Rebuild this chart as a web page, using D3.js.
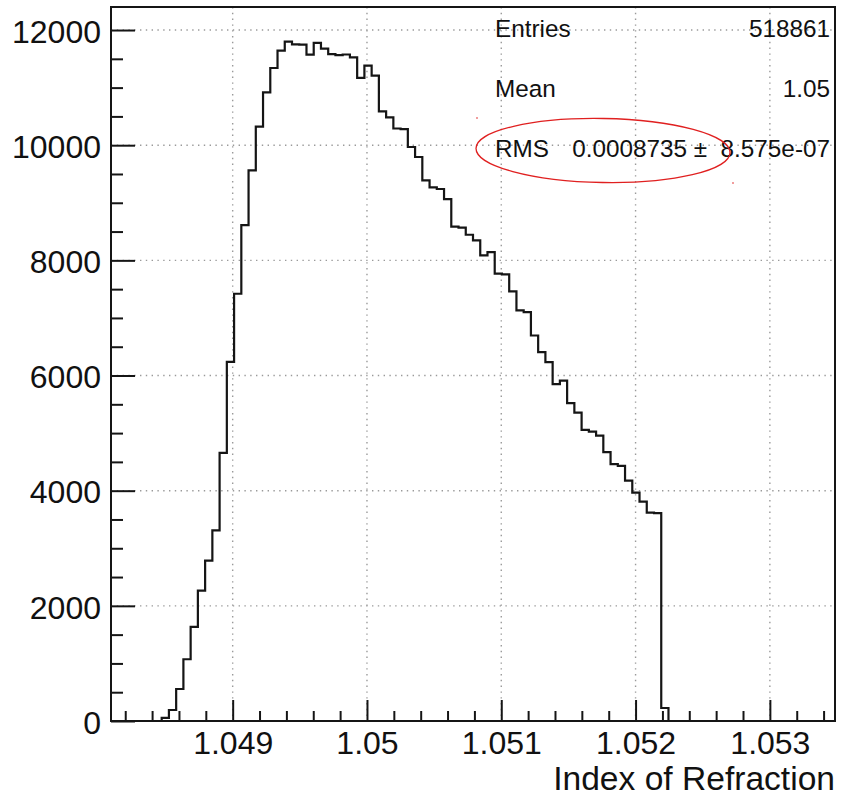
<!DOCTYPE html>
<html>
<head>
<meta charset="utf-8">
<script src="https://cdn.jsdelivr.net/npm/d3@7"></script>
<style>
  html, body { margin: 0; padding: 0; background: #fff; }
  text { font-family: "Liberation Sans", Arial, Helvetica, sans-serif; fill: #111; }
</style>
</head>
<body>
<div id="chart"></div>
<script>
// histogram binning (100 bins over the axis range)
const histLow = 1.048094
const histHigh = 1.053485
const nBins = 100

// bin contents
const binCounts = [
    0, 0, 0, 0, 0, 0, 0, 55, 191, 556,
    1072, 1633, 2264, 2786, 3310, 4657, 6238, 7420, 8613, 9562,
    10321, 10917, 11341, 11642, 11798, 11751, 11746, 11572, 11776, 11677,
    11580, 11565, 11575, 11525, 11168, 11381, 11207, 10587, 10483, 10290,
    10280, 9969, 9795, 9388, 9267, 9239, 9065, 8585, 8570, 8445,
    8346, 8085, 8144, 7770, 7755, 7460, 7130, 7102, 6695, 6407,
    6233, 5851, 5913, 5520, 5357, 5056, 5027, 4957, 4669, 4460,
    4431, 4176, 3967, 3811, 3620, 3610, 226, 0, 0, 0,
    0, 0, 0, 0, 0, 0, 0, 0, 0, 0,
    0, 0, 0, 0, 0, 0, 0, 0, 0, 0
]

const yMax = 12400
const xTicks = [1.049, 1.05, 1.051, 1.052, 1.053]
const xTickLabels = ["1.049", "1.05", "1.051", "1.052", "1.053"]
const xMinorStep = 0.0002
const yTicks = [0, 2000, 4000, 6000, 8000, 10000, 12000]
const yMinorStep = 500
const xTitle = "Index of Refraction"

const statLabels = ["Entries", "Mean", "RMS"]
const statValues = ["518861", "1.05", "0.0008735 \u00b1  8.575e-07"]

const layout = {
    width: 844,
    height: 796,
    frame: { left: 111, top: 7, right: 835, bottom: 721 }
}
const f = layout.frame

var svg = d3.select("#chart").append("svg")
    .attr("width", layout.width)
    .attr("height", layout.height)

var xScale = d3.scaleLinear().domain([histLow, histHigh]).range([f.left, f.right])
var yScale = d3.scaleLinear().domain([0, yMax]).range([f.bottom, f.top])

// dotted grid
var grid = svg.append("g")
    .attr("stroke", "#9a9a9a")
    .attr("stroke-width", 1.4)
    .attr("stroke-dasharray", "1.4,4.4")
grid.selectAll(".gx").data(xTicks).enter().append("line")
    .attr("x1", d => xScale(d)).attr("x2", d => xScale(d))
    .attr("y1", f.top).attr("y2", f.bottom)
grid.selectAll(".gy").data(yTicks.filter(d => d > 0)).enter().append("line")
    .attr("x1", f.left).attr("x2", f.right)
    .attr("y1", d => yScale(d)).attr("y2", d => yScale(d))

// histogram outline
var edges = d3.range(nBins + 1).map(i => histLow + i * (histHigh - histLow) / nBins)
var pts = binCounts.map((c, i) => [edges[i], c])
pts.push([edges[nBins], binCounts[nBins - 1]])

var line = d3.line()
    .curve(d3.curveStepAfter)
    .x(d => xScale(d[0]))
    .y(d => yScale(d[1]))

svg.append("path")
    .datum(pts)
    .attr("fill", "none")
    .attr("stroke", "#151515")
    .attr("stroke-width", 2.2)
    .attr("d", line)

// axes
var fontSize = 32

const yMinor = d3.range(0, yMax, yMinorStep).filter(d => yTicks.indexOf(d) < 0)
const xMinor = d3.range(Math.ceil(histLow / xMinorStep) * xMinorStep, histHigh, xMinorStep)
    .filter(d => !xTicks.some(t => Math.abs(t - d) < 1e-7))

const styleAxis = function(g) {
    g.select(".domain").remove()
    g.selectAll(".tick line").attr("stroke", "#151515").attr("stroke-width", 2)
}

svg.append("g")
    .attr("transform", `translate(${f.left},0)`)
    .call(d3.axisLeft(yScale).tickValues(yMinor).tickSize(-12).tickFormat(""))
    .call(styleAxis)

svg.append("g")
    .attr("transform", `translate(${f.left},0)`)
    .call(d3.axisLeft(yScale).tickValues(yTicks).tickSize(-24).tickPadding(10).tickFormat(d3.format("d")))
    .call(styleAxis)
    .call(g => g.selectAll(".tick text").attr("dy", "0.38em"))
    .attr("font-size", fontSize)

svg.append("g")
    .attr("transform", `translate(0,${f.bottom})`)
    .call(d3.axisBottom(xScale).tickValues(xMinor).tickSize(-10).tickFormat(""))
    .call(styleAxis)

svg.append("g")
    .attr("transform", `translate(0,${f.bottom})`)
    .call(d3.axisBottom(xScale).tickValues(xTicks).tickSize(-21).tickPadding(10)
        .tickFormat((d, i) => xTickLabels[i]))
    .call(styleAxis)
    .attr("font-size", fontSize)

svg.selectAll(".tick text").attr("fill", "#111").attr("font-family", null)

// frame
svg.append("rect")
    .attr("x", f.left).attr("y", f.top)
    .attr("width", f.right - f.left).attr("height", f.bottom - f.top)
    .attr("fill", "none")
    .attr("stroke", "#151515")
    .attr("stroke-width", 2)

// axis title
svg.append("text")
    .attr("x", f.right)
    .attr("y", 790)
    .attr("text-anchor", "end")
    .attr("font-size", 33.6)
    .text(xTitle)

// stats box
var stats = svg.append("g").attr("font-size", 24.3)
stats.selectAll(".lab").data(statLabels).enter().append("text")
    .attr("x", 495)
    .attr("y", (d, i) => 37 + i * 60)
    .text(d => d)
stats.selectAll(".val").data(statValues).enter().append("text")
    .attr("x", 830)
    .attr("y", (d, i) => 37 + i * 60)
    .attr("text-anchor", "end")
    .style("white-space", "pre")
    .text(d => d)

// hand drawn red ellipse round the RMS line, with its two stray pen marks
svg.append("ellipse")
    .attr("cx", 603).attr("cy", 150.5)
    .attr("rx", 127).attr("ry", 32)
    .attr("transform", "rotate(1 603 150.5)")
    .attr("fill", "none")
    .attr("stroke", "#e02020")
    .attr("stroke-width", 1.3)
svg.selectAll(".pen").data([[477, 118], [733, 183]]).enter().append("circle")
    .attr("cx", d => d[0]).attr("cy", d => d[1])
    .attr("r", 0.8)
    .attr("fill", "#e02020")
</script>
</body>
</html>
